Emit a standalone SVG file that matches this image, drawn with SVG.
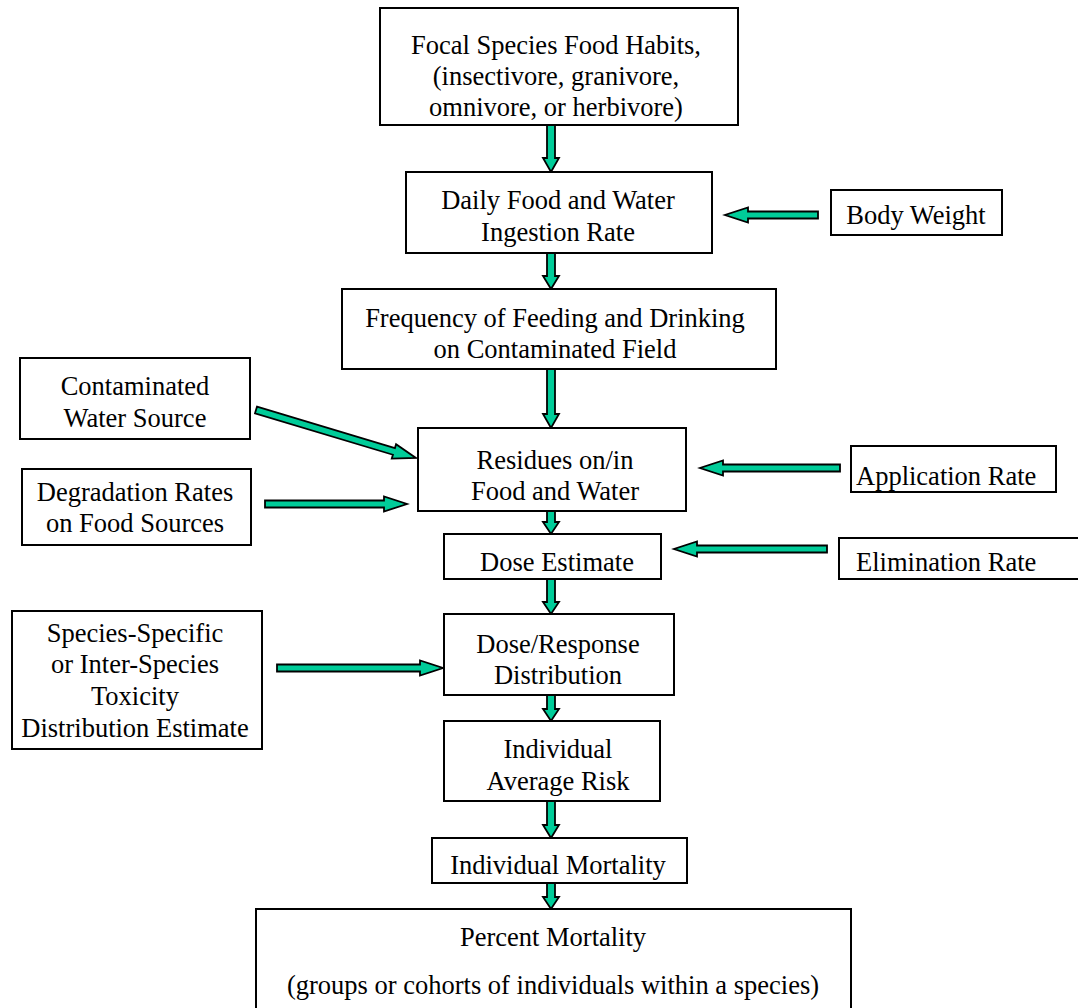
<svg xmlns="http://www.w3.org/2000/svg" width="1078" height="1008" viewBox="0 0 1078 1008">
<style>
.box{fill:#fff;stroke:#000;stroke-width:2}
text{font-family:"Liberation Serif","Times New Roman",serif;font-size:26.5px;fill:#000}
.c{text-anchor:middle}
.arr{fill:#00CC99;stroke:#000;stroke-width:1.8;stroke-linejoin:miter}
</style>
<rect width="1078" height="1008" fill="#fff"/>
<g id="connectors">
<polygon class="arr" points="547,125 555,125 555,158 559,158 551,172 543,158 547,158"/>
<polygon class="arr" points="547,253 555,253 555,276 559,276 551,289 543,276 547,276"/>
<polygon class="arr" points="547,369 555,369 555,414 559,414 551,428 543,414 547,414"/>
<polygon class="arr" points="547,511 555,511 555,522 559,522 551,534 543,522 547,522"/>
<polygon class="arr" points="547,579 555,579 555,602 559,602 551,614 543,602 547,602"/>
<polygon class="arr" points="547,695 555,695 555,709 559,709 551,721 543,709 547,709"/>
<polygon class="arr" points="547,801 555,801 555,825 559,825 551,838 543,825 547,825"/>
<polygon class="arr" points="547,883 555,883 555,897 559,897 551,909 543,897 547,897"/>
<polygon class="arr" transform="translate(818,215) rotate(180)" points="0,-3.5 70,-3.5 70,-7.5 93,0 70,7.5 70,3.5 0,3.5"/>
<polygon class="arr" transform="translate(840,468) rotate(180)" points="0,-3.5 117,-3.5 117,-7.5 140,0 117,7.5 117,3.5 0,3.5"/>
<polygon class="arr" transform="translate(827,549) rotate(180)" points="0,-3.5 130,-3.5 130,-7.5 153,0 130,7.5 130,3.5 0,3.5"/>
<polygon class="arr" transform="translate(256,410) rotate(16.7)" points="0,-3.5 144,-3.5 144,-7.5 167,0 144,7.5 144,3.5 0,3.5"/>
<polygon class="arr" transform="translate(265,504)" points="0,-3.5 119,-3.5 119,-7.5 142,0 119,7.5 119,3.5 0,3.5"/>
<polygon class="arr" transform="translate(277,668)" points="0,-3.5 143,-3.5 143,-7.5 166,0 143,7.5 143,3.5 0,3.5"/>
</g>
<g id="n-focal"><rect class="box" x="380" y="8" width="358" height="117"/>
<text class="c" x="556" y="54">Focal Species Food Habits,</text>
<text class="c" x="556" y="85">(insectivore, granivore,</text>
<text class="c" x="556" y="116">omnivore, or herbivore)</text></g>
<g id="n-daily"><rect class="box" x="406" y="172" width="306" height="81"/>
<text class="c" x="558" y="209">Daily Food and Water</text>
<text class="c" x="558" y="241">Ingestion Rate</text></g>
<g id="n-body"><rect class="box" x="831" y="190" width="171" height="45"/>
<text class="c" x="916" y="224">Body Weight</text></g>
<g id="n-freq"><rect class="box" x="342" y="289" width="434" height="80"/>
<text class="c" x="555" y="327">Frequency of Feeding and Drinking</text>
<text class="c" x="555" y="358">on Contaminated Field</text></g>
<g id="n-water"><rect class="box" x="20" y="358" width="230" height="81"/>
<text class="c" x="135" y="395">Contaminated</text>
<text class="c" x="135" y="427">Water Source</text></g>
<g id="n-residues"><rect class="box" x="418" y="428" width="268" height="83"/>
<text class="c" x="555" y="469">Residues on/in</text>
<text class="c" x="555" y="500">Food and Water</text></g>
<g id="n-degrad"><rect class="box" x="22" y="469" width="229" height="76"/>
<text class="c" x="135" y="501">Degradation Rates</text>
<text class="c" x="135" y="532">on Food Sources</text></g>
<g id="n-app"><rect class="box" x="851" y="446" width="205" height="46"/>
<text x="856" y="485">Application Rate</text></g>
<g id="n-dose"><rect class="box" x="444" y="534" width="217" height="45"/>
<text class="c" x="557" y="571">Dose Estimate</text></g>
<g id="n-elim"><rect class="box" x="839" y="538" width="245" height="41"/>
<text x="856" y="571">Elimination Rate</text></g>
<g id="n-species"><rect class="box" x="12" y="611" width="250" height="138"/>
<text class="c" x="135" y="642">Species-Specific</text>
<text class="c" x="135" y="673">or Inter-Species</text>
<text class="c" x="135" y="705">Toxicity</text>
<text class="c" x="135" y="737">Distribution Estimate</text></g>
<g id="n-doseresp"><rect class="box" x="444" y="614" width="230" height="81"/>
<text class="c" x="558" y="653">Dose/Response</text>
<text class="c" x="558" y="684">Distribution</text></g>
<g id="n-risk"><rect class="box" x="444" y="721" width="216" height="80"/>
<text class="c" x="558" y="758">Individual</text>
<text class="c" x="558" y="790">Average Risk</text></g>
<g id="n-indmort"><rect class="box" x="432" y="838" width="255" height="45"/>
<text class="c" x="558" y="874">Individual Mortality</text></g>
<g id="n-pctmort"><rect class="box" x="256" y="909" width="595" height="105"/>
<text class="c" x="553" y="946">Percent Mortality</text>
<text class="c" x="553" y="994">(groups or cohorts of individuals within a species)</text></g>
</svg>
